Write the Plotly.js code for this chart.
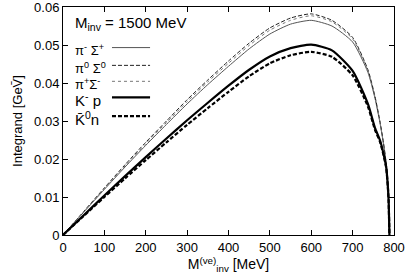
<!DOCTYPE html>
<html><head><meta charset="utf-8">
<script src="https://cdn.plot.ly/plotly-3.0.1.min.js"></script>
<style>html,body{margin:0;padding:0;background:#fff}#plot{width:409px;height:276px}</style>
</head><body><div id="plot"></div>
<script>
var mve = [0,50,100,150,200,250,300,350,400,450,500,550,600,650,700,737,754,766,775,781,785,787,789];
var piMinusSigmaPlus = [0,0.0060,0.0120,0.0179,0.0236,0.0291,0.0345,0.0396,0.0444,0.0490,0.0529,0.0555,0.0565,0.0550,0.0508,0.0428,0.0360,0.0296,0.0237,0.0188,0.0133,0.0089,0];
var piZeroSigmaZero = [0,0.0062,0.0124,0.0185,0.0244,0.0300,0.0356,0.0408,0.0458,0.0505,0.0545,0.0571,0.0582,0.0565,0.0520,0.0435,0.0365,0.0300,0.0240,0.0190,0.0135,0.0090,0];
var piPlusSigmaMinus = [0,0.0061,0.0122,0.0182,0.0240,0.0296,0.0351,0.0403,0.0452,0.0499,0.0539,0.0565,0.0577,0.0561,0.0516,0.0432,0.0363,0.0298,0.0239,0.0189,0.0134,0.0090,0];
var kMinusP = [0,0.0052,0.0104,0.0155,0.0205,0.0254,0.0302,0.0348,0.0393,0.0435,0.0470,0.0492,0.0501,0.0486,0.0432,0.0345,0.0282,0.0250,0.0212,0.0180,0.0130,0.0090,0];
var kbar0N = [0,0.0050,0.0100,0.0149,0.0197,0.0244,0.0290,0.0334,0.0377,0.0418,0.0452,0.0473,0.0482,0.0469,0.0420,0.0338,0.0277,0.0246,0.0209,0.0178,0.0129,0.0089,0];
var legendNames = ["π<sup>-</sup> Σ<sup>+</sup>","π<sup>0</sup> Σ<sup>0</sup>","π<sup>+</sup>Σ<sup>-</sup>","K<sup>-</sup> p","K̄<sup>0</sup>n"];
var xTicks = [0,100,200,300,400,500,600,700,800];
var yTicks = [0,0.01,0.02,0.03,0.04,0.05,0.06];
var yTickText = ["0","0.01","0.02","0.03","0.04","0.05","0.06"];

var FONT = 'Liberation Sans, Arial, sans-serif';
var styles = [
  {color:'#555555', width:1, dash:'solid'},
  {color:'#222222', width:1, dash:'4px,2px'},
  {color:'#777777', width:1, dash:'dot'},
  {color:'#000000', width:2.2, dash:'solid'},
  {color:'#000000', width:2.2, dash:'4px,2px'}
];
var series = [piMinusSigmaPlus, piZeroSigmaZero, piPlusSigmaMinus, kMinusP, kbar0N];
var traces = series.map(function(s,i){
  return {x:mve, y:s, type:'scatter', mode:'lines', line:{color:styles[i].color, width:styles[i].width, dash:styles[i].dash, shape:'spline', smoothing:0.6}, showlegend:false, hoverinfo:'skip'};
});

var rowY = [0.812,0.734,0.664,0.594,0.511];
var annotations = [{xref:'paper', yref:'paper', x:0.03, y:0.926, xanchor:'left', yanchor:'middle', showarrow:false,
  text:'M<sub>inv</sub> = 1500 MeV', font:{size:15, color:'#000', family:FONT}}];
var shapes = [];
legendNames.forEach(function(n,i){
  annotations.push({xref:'paper', yref:'paper', x:0.03, y:rowY[i], xanchor:'left', yanchor:'middle', showarrow:false,
    text:n, font:{size:i>=3?15:13, color:'#000', family:FONT}});
  shapes.push({type:'line', xref:'paper', yref:'paper', x0:0.148, x1:0.263, y0:rowY[i]+0.01, y1:rowY[i]+0.01,
    line:{color:styles[i].color, width:styles[i].width, dash:styles[i].dash}});
});

var axisCommon = {showgrid:false, zeroline:false, showline:true, linecolor:'#000', linewidth:1, mirror:'ticks',
  ticks:'inside', ticklen:5, tickcolor:'#000', ticklabeloverflow:'allow', tickfont:{size:13, color:'#000', family:FONT}};

var layout = {
  width:409, height:276, margin:{l:63, r:15, t:7, b:41},
  paper_bgcolor:'#fff', plot_bgcolor:'#fff',
  xaxis: Object.assign({}, axisCommon, {range:[0,800.01], tickvals:xTicks, ticktext:xTicks.map(String),
    title:{text:'M<sup>(ve)</sup><sub>inv</sub> [MeV]', standoff:3, font:{size:14, color:'#000', family:FONT}}}),
  yaxis: Object.assign({}, axisCommon, {range:[0,0.06001], tickvals:yTicks, ticktext:yTickText,
    title:{text:'Integrand [GeV̄]', standoff:8, font:{size:13, color:'#000', family:FONT}}}),
  annotations: annotations, shapes: shapes
};
Plotly.newPlot('plot', traces, layout, {staticPlot:true, displayModeBar:false});
</script></body></html>
